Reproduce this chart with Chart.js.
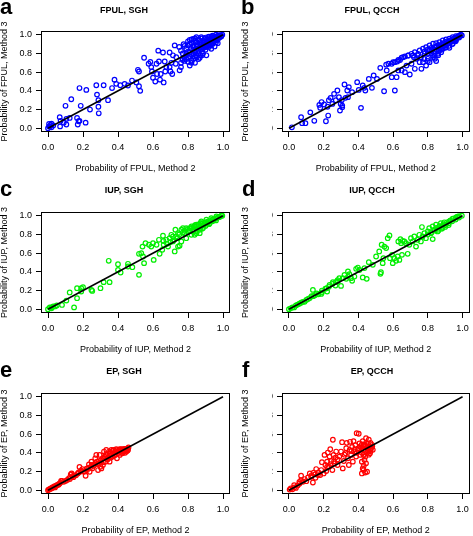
<!DOCTYPE html>
<html><head><meta charset="utf-8">
<script src="https://cdn.jsdelivr.net/npm/chart.js@4"></script>
<style>
html,body{margin:0;padding:0;background:#fff;width:473px;height:536px;overflow:hidden}
body{position:relative}
canvas{position:absolute}
.lt{position:absolute;font-family:"Liberation Sans",Arial,sans-serif;font-weight:bold;font-size:22px;line-height:22px;color:#000}
</style></head><body>
<div id="wrap"></div>
<script>
const tickValues=[0,0.2,0.4,0.6,0.8,1.0];
const diagLine=[0,1];
const panelTitles=["FPUL, SGH","FPUL, QCCH","IUP, SGH","IUP, QCCH","EP, SGH","EP, QCCH"];
const panelLetters=["a","b","c","d","e","f"];
const outcomes=["FPUL","FPUL","IUP","IUP","EP","EP"];

const fpulSgh=[[0.0,0.0],[0.01,0.02],[0.006,0.046],[0.006,0.018],[0.02,0.05],[0.02,0.01],[0.03,0.03],[0.015,0.035],
[0.067,0.118],[0.072,0.08],[0.069,0.02],[0.09,0.06],[0.105,0.10],[0.124,0.11],[0.10,0.24],[0.133,0.31],[0.105,0.04],
[0.166,0.11],[0.175,0.075],[0.17,0.04],[0.18,0.43],[0.187,0.24],[0.18,0.08],[0.215,0.06],[0.219,0.41],[0.24,0.20],
[0.276,0.46],[0.28,0.36],[0.288,0.30],[0.288,0.23],[0.29,0.16],[0.318,0.46],
[0.343,0.30],[0.366,0.43],[0.38,0.52],[0.39,0.475],[0.413,0.46],[0.438,0.475],[0.457,0.457],[0.48,0.51],[0.505,0.49],[0.52,0.45],[0.527,0.40],[0.514,0.625],[0.52,0.607],[0.549,0.754],
[0.575,0.69],[0.585,0.71],[0.59,0.654],[0.594,0.607],[0.60,0.54],[0.613,0.50],[0.62,0.69],[0.623,0.58],[0.63,0.83],[0.634,0.714],[0.64,0.52],[0.644,0.58],[0.657,0.81],[0.661,0.49],[0.667,0.714],[0.67,0.607],[0.676,0.654],[0.695,0.81],[0.695,0.654],[0.70,0.607],[0.71,0.58],[0.705,0.70],[0.714,0.78],[0.724,0.886],[0.73,0.69],[0.752,0.62],[0.76,0.654],[0.768,0.743],[0.733,0.76],[0.75,0.87],[0.775,0.90],[0.79,0.80],[0.80,0.71],[0.81,0.67],[0.819,0.725],[0.83,0.74],[0.838,0.768],[0.838,0.83],[0.848,0.78],[0.867,0.754],[0.886,0.80],[0.905,0.78],[0.83,0.87],[0.848,0.92],[0.857,0.886],[0.867,0.94],[0.886,0.90],[0.905,0.92],[0.924,0.946],[0.943,0.968],[0.962,0.98],[0.98,0.99],[0.996,1.0],[0.81,0.90],[0.819,0.85],[0.80,0.82],[0.867,0.86],[0.886,0.857],[0.905,0.868],[0.924,0.886],[0.943,0.91],[0.962,0.94],[0.98,0.97],[0.933,0.85],[0.952,0.875],[0.97,0.91],[0.77,0.80],[0.78,0.76],[0.79,0.85],[0.876,0.975],[0.895,0.955],[0.914,0.975],[0.933,0.98],[0.848,0.975],[0.83,0.955],[0.81,0.946],
[0.82,0.79],[0.84,0.81],[0.86,0.83],[0.88,0.85],[0.90,0.88],[0.92,0.90],[0.94,0.93],[0.96,0.95],[0.98,0.98],[0.99,0.99],[0.85,0.88],[0.87,0.90],[0.89,0.93],[0.91,0.95],[0.93,0.96],[0.95,0.97],[0.97,0.99],[0.80,0.76],[0.82,0.72],[0.84,0.70],[0.79,0.74],[0.86,0.80],[0.88,0.82],[0.90,0.84],[0.92,0.87],[0.94,0.90],[0.96,0.92],[0.83,0.84],[0.85,0.85],[0.87,0.87],[0.89,0.89],[0.91,0.91],[0.93,0.93],[0.95,0.95],[0.97,0.97],[0.76,0.83],[0.78,0.88],[0.80,0.89],[0.82,0.91],[0.84,0.93],[0.86,0.95],[0.88,0.96],[0.90,0.97],[0.92,0.98],[0.94,0.99],[0.96,1.0],
[0.78,0.72],[0.79,0.78],[0.81,0.77],[0.81,0.81],[0.83,0.79],[0.83,0.88],[0.85,0.90],[0.85,0.76],[0.87,0.78],[0.87,0.92],[0.88,0.88],[0.89,0.86],[0.90,0.90],[0.91,0.88],[0.92,0.95],[0.93,0.89],[0.94,0.95],[0.95,0.93],[0.96,0.97],[0.97,0.95],[0.98,0.995],[0.99,0.98],[0.77,0.73],[0.76,0.70],[0.82,0.70],[0.86,0.74],[0.88,0.78],[0.80,0.93],[0.82,0.95],[0.84,0.96]];

const fpulQcch=[[0.017,0.01],[0.07,0.118],[0.076,0.054],[0.095,0.054],[0.123,0.17],[0.146,0.08],[0.175,0.25],[0.18,0.22],[0.188,0.28],[0.203,0.254],[0.213,0.075],[0.226,0.136],[0.222,0.23],[0.23,0.30],[0.24,0.325],[0.25,0.26],[0.26,0.368],[0.27,0.30],[0.279,0.404],[0.288,0.332],[0.294,0.19],[0.298,0.26],[0.307,0.243],[0.307,0.225],[0.304,0.30],[0.32,0.468],[0.326,0.325],[0.336,0.404],[0.345,0.44],[0.34,0.332],[0.364,0.386],[0.393,0.493],[0.402,0.41],[0.415,0.218],[0.425,0.457],[0.434,0.432],[0.44,0.404],[0.46,0.528],[0.478,0.432],[0.488,0.564],[0.507,0.528],[0.526,0.646],[0.548,0.396],[0.56,0.68],[0.563,0.618],[0.573,0.69],[0.592,0.546],[0.60,0.707],[0.61,0.404],[0.62,0.546],[0.63,0.618],[0.624,0.714],[0.64,0.73],[0.649,0.618],[0.658,0.76],[0.668,0.60],[0.677,0.67],[0.687,0.778],[0.696,0.575],[0.706,0.69],[0.715,0.778],[0.725,0.636],[0.734,0.743],[0.744,0.796],[0.753,0.707],[0.763,0.636],[0.772,0.707],[0.782,0.796],[0.79,0.67],[0.80,0.743],[0.81,0.707],[0.82,0.832],[0.83,0.778],[0.84,0.743],[0.848,0.718],[0.858,0.796],[0.867,0.832],[0.877,0.814],[0.886,0.85],[0.905,0.868],[0.924,0.86],[0.943,0.904],[0.962,0.94],[0.98,0.975],[0.996,0.993],
[0.753,0.832],[0.772,0.85],[0.79,0.868],[0.81,0.886],[0.83,0.904],[0.848,0.91],[0.867,0.92],[0.886,0.94],[0.905,0.95],[0.924,0.957],[0.943,0.975],[0.962,0.986],[0.725,0.814],[0.706,0.796],[0.687,0.778],[0.668,0.768],[0.649,0.754],[0.63,0.73],[0.61,0.707],[0.592,0.69],
[0.78,0.82],[0.80,0.84],[0.82,0.86],[0.84,0.87],[0.86,0.89],[0.88,0.90],[0.90,0.92],[0.92,0.93],[0.94,0.95],[0.96,0.96],[0.98,0.99],[0.85,0.84],[0.87,0.86],[0.89,0.88],[0.91,0.90],[0.93,0.92],[0.95,0.94],[0.97,0.97],[0.99,1.0],[0.86,0.82],[0.88,0.84],[0.90,0.86],[0.92,0.88],[0.94,0.90],[0.96,0.93],[0.82,0.80],[0.84,0.78],[0.76,0.76],[0.74,0.78],[0.72,0.76],
[0.80,0.80],[0.81,0.83],[0.83,0.85],[0.85,0.87],[0.87,0.88],[0.89,0.91],[0.91,0.93],[0.93,0.94],[0.95,0.96],[0.97,0.98],[0.84,0.82],[0.88,0.87],[0.90,0.89],[0.92,0.91],[0.94,0.93],[0.96,0.95],[0.98,0.97],[0.78,0.74],[0.80,0.72],[0.83,0.76],[0.86,0.78]];

const iupSgh=[[0.01,0.02],[0.02,0.02],[0.03,0.03],[0.04,0.03],[0.05,0.04],[0.02,0.01],[0.0,0.0],
[0.08,0.046],[0.105,0.093],[0.124,0.18],[0.149,0.02],[0.166,0.118],[0.166,0.225],[0.19,0.225],[0.19,0.19],[0.20,0.236],[0.248,0.207],[0.253,0.196],[0.30,0.225],[0.318,0.29],[0.347,0.518],[0.352,0.29],[0.40,0.482],[0.40,0.42],[0.415,0.393],[0.457,0.486],[0.482,0.45],[0.457,0.457],[0.52,0.368],[0.52,0.593],[0.533,0.60],[0.54,0.67],[0.549,0.493],[0.543,0.564],[0.557,0.707],[0.577,0.69],[0.59,0.67],[0.604,0.528],[0.60,0.707],[0.62,0.69],[0.634,0.743],[0.638,0.593],[0.653,0.636],[0.657,0.786],[0.661,0.69],[0.676,0.743],[0.686,0.67],[0.695,0.76],[0.705,0.796],[0.714,0.725],[0.724,0.618],[0.728,0.85],[0.733,0.778],[0.743,0.67],[0.752,0.68],[0.762,0.725],[0.771,0.868],[0.78,0.814],[0.79,0.76],[0.80,0.832],[0.81,0.868],[0.819,0.796],[0.829,0.85],[0.838,0.886],[0.848,0.814],[0.857,0.904],[0.867,0.85],[0.876,0.921],[0.886,0.868],[0.895,0.93],[0.905,0.904],[0.914,0.94],[0.924,0.921],[0.943,0.957],[0.962,0.975],[0.98,0.986],[0.996,1.0],[0.82,0.886],[0.79,0.868],[0.762,0.85],[0.743,0.814],[0.714,0.778],[0.848,0.904],[0.876,0.94],[0.905,0.957],[0.933,0.975],[0.962,0.993],[0.867,0.814],[0.838,0.796],
[0.78,0.84],[0.80,0.86],[0.82,0.87],[0.84,0.88],[0.86,0.89],[0.88,0.91],[0.90,0.93],[0.92,0.94],[0.94,0.96],[0.96,0.97],[0.98,0.99],[0.83,0.83],[0.85,0.85],[0.87,0.87],[0.89,0.90],[0.91,0.92],[0.93,0.94],[0.95,0.96],[0.97,0.98],[0.99,1.0],[0.85,0.83],[0.88,0.86],[0.90,0.89],[0.92,0.91],[0.94,0.94],[0.96,0.95],[0.75,0.80],[0.77,0.82],[0.81,0.84],[0.84,0.90],[0.87,0.92],[0.70,0.72],[0.68,0.70],[0.66,0.73],[0.72,0.74],[0.74,0.76]];

const iupQcch=[[0.0,0.0],[0.01,0.01],[0.02,0.02],[0.03,0.02],[0.04,0.04],[0.05,0.05],[0.06,0.06],[0.07,0.07],[0.08,0.08],[0.09,0.08],[0.10,0.10],[0.11,0.11],[0.12,0.12],[0.13,0.14],[0.14,0.14],[0.15,0.15],[0.16,0.17],[0.17,0.16],[0.19,0.20],[0.21,0.22],[0.23,0.24],[0.25,0.27],[0.27,0.29],[0.28,0.31],
[0.138,0.207],[0.19,0.18],[0.186,0.164],[0.22,0.19],[0.218,0.225],[0.234,0.26],[0.253,0.29],[0.268,0.254],[0.28,0.296],[0.29,0.332],[0.30,0.25],[0.31,0.332],[0.32,0.368],[0.33,0.325],[0.34,0.404],[0.34,0.35],[0.348,0.375],[0.358,0.332],[0.364,0.304],[0.377,0.35],[0.387,0.432],[0.397,0.446],[0.406,0.42],[0.425,0.34],[0.435,0.44],[0.448,0.325],[0.46,0.504],[0.483,0.475],[0.502,0.564],[0.52,0.618],[0.527,0.379],[0.53,0.396],[0.534,0.69],[0.54,0.493],[0.544,0.546],[0.55,0.67],[0.56,0.654],[0.569,0.76],[0.579,0.79],[0.582,0.546],[0.594,0.582],[0.598,0.493],[0.607,0.546],[0.617,0.518],[0.626,0.564],[0.63,0.725],[0.636,0.528],[0.642,0.75],[0.646,0.707],[0.651,0.582],[0.655,0.732],[0.665,0.725],[0.674,0.707],[0.684,0.593],[0.693,0.69],[0.703,0.76],[0.713,0.725],[0.722,0.778],[0.732,0.67],[0.741,0.743],[0.751,0.796],[0.76,0.725],[0.766,0.879],[0.77,0.778],[0.78,0.814],[0.789,0.76],[0.80,0.832],[0.808,0.868],[0.818,0.814],[0.828,0.75],[0.828,0.886],[0.837,0.85],[0.847,0.904],[0.856,0.832],[0.866,0.886],[0.875,0.921],[0.885,0.868],[0.895,0.93],[0.904,0.904],[0.923,0.94],[0.943,0.968],[0.962,0.982],[0.98,0.996],[0.996,1.0],
[0.80,0.80],[0.82,0.82],[0.84,0.84],[0.86,0.86],[0.88,0.88],[0.90,0.90],[0.92,0.92],[0.94,0.94],[0.96,0.96],[0.98,0.98],[0.85,0.87],[0.87,0.89],[0.89,0.91],[0.91,0.93],[0.93,0.95],[0.95,0.97],[0.97,0.99],[0.86,0.84],[0.88,0.86],[0.90,0.88],[0.92,0.90]];

const epSgh=[[0.0,0.0],[0.005,0.01],[0.01,0.01],[0.015,0.02],[0.02,0.02],[0.025,0.03],[0.03,0.03],[0.035,0.04],[0.04,0.03],[0.045,0.05],[0.05,0.05],[0.055,0.06],[0.06,0.06],[0.065,0.07],[0.07,0.08],[0.075,0.1],[0.08,0.1],[0.09,0.09],[0.1,0.1],[0.11,0.11],[0.12,0.13],[0.125,0.12],[0.13,0.17],[0.135,0.18],[0.14,0.15],[0.145,0.14],[0.15,0.16],[0.16,0.16],[0.17,0.18],[0.175,0.19],[0.18,0.25],[0.185,0.2],[0.19,0.21],[0.196,0.227],[0.2,0.2],[0.21,0.2],[0.215,0.155],[0.223,0.216],[0.23,0.24],[0.234,0.277],[0.238,0.198],[0.245,0.25],[0.248,0.306],[0.253,0.234],[0.26,0.26],[0.263,0.27],[0.27,0.342],[0.276,0.378],[0.28,0.306],[0.283,0.28],[0.286,0.216],[0.29,0.288],[0.295,0.378],[0.3,0.252],[0.302,0.3],[0.305,0.234],[0.31,0.335],[0.314,0.27],[0.318,0.3],[0.32,0.414],[0.324,0.36],[0.33,0.306],[0.333,0.432],[0.337,0.378],[0.34,0.33],[0.343,0.342],[0.349,0.414],[0.352,0.306],[0.356,0.396],[0.36,0.35],[0.362,0.432],[0.368,0.36],[0.371,0.406],[0.375,0.432],[0.378,0.37],[0.381,0.378],[0.387,0.414],[0.39,0.439],[0.394,0.342],[0.4,0.396],[0.403,0.42],[0.406,0.432],[0.41,0.378],[0.413,0.414],[0.419,0.439],[0.422,0.4],[0.425,0.396],[0.429,0.432],[0.432,0.414],[0.435,0.42],[0.438,0.442],[0.44,0.4],[0.444,0.432],[0.448,0.414],[0.451,0.442],[0.455,0.425],[0.457,0.432],[0.46,0.457],[0.35,0.37],[0.33,0.38],[0.36,0.39],[0.38,0.4],[0.4,0.41],[0.42,0.42],[0.37,0.42],[0.39,0.43],[0.41,0.44],[0.43,0.44],[0.45,0.44],[0.3,0.32],[0.32,0.34],[0.34,0.35],[0.27,0.29],[0.25,0.27],[0.22,0.23]];

const epQcch=[[0.004,0.007],[0.01,0.02],[0.02,0.01],[0.03,0.03],[0.03,0.054],[0.04,0.025],[0.05,0.05],[0.06,0.09],[0.07,0.108],[0.07,0.155],[0.08,0.09],[0.1,0.097],[0.11,0.137],[0.12,0.18],[0.128,0.144],[0.138,0.083],[0.142,0.187],[0.153,0.133],[0.157,0.227],[0.167,0.162],[0.18,0.162],[0.186,0.216],[0.19,0.30],[0.2,0.18],[0.205,0.378],[0.21,0.27],[0.215,0.205],[0.22,0.306],[0.224,0.403],[0.23,0.252],[0.234,0.36],[0.238,0.439],[0.243,0.313],[0.25,0.216],[0.253,0.54],[0.257,0.378],[0.262,0.288],[0.268,0.35],[0.272,0.414],[0.28,0.27],[0.29,0.36],[0.30,0.414],[0.306,0.514],[0.31,0.234],[0.316,0.313],[0.326,0.396],[0.33,0.45],[0.333,0.507],[0.34,0.342],[0.345,0.27],[0.35,0.432],[0.352,0.518],[0.358,0.378],[0.364,0.464],[0.368,0.306],[0.372,0.525],[0.377,0.414],[0.383,0.482],[0.387,0.36],[0.39,0.61],[0.397,0.432],[0.402,0.604],[0.406,0.50],[0.41,0.378],[0.416,0.45],[0.42,0.18],[0.42,0.306],[0.425,0.525],[0.43,0.216],[0.431,0.432],[0.435,0.493],[0.439,0.19],[0.44,0.36],[0.444,0.557],[0.448,0.45],[0.45,0.198],[0.454,0.50],[0.458,0.414],[0.46,0.54],[0.464,0.468],[0.467,0.396],[0.47,0.507],[0.473,0.45],[0.479,0.486],[0.483,0.432],[0.431,0.263],[0.425,0.234],[0.435,0.324],[0.444,0.288],
[0.40,0.45],[0.41,0.47],[0.42,0.49],[0.43,0.47],[0.44,0.48],[0.45,0.46],[0.46,0.44],[0.47,0.42],[0.48,0.47],[0.42,0.40],[0.43,0.38],[0.44,0.42],[0.45,0.40],[0.46,0.38],[0.47,0.44],[0.38,0.44],[0.39,0.40],[0.36,0.42],[0.32,0.38],[0.28,0.33],[0.26,0.31],[0.24,0.28],[0.22,0.25],[0.17,0.19],[0.15,0.17],[0.13,0.16],[0.09,0.12],[0.06,0.07]];

const panelData=[fpulSgh,fpulQcch,iupSgh,iupQcch,epSgh,epQcch];
const panelColors=["#0000ff","#0000ff","#00ee00","#00ee00","#ff0000","#ff0000"];

// layout: canvas left/top/size, layout padding, axis sizes
const cols=[{L:0,W:236,padL:18,padR:6,yw:23},{L:241,W:232,padL:31,padR:1,yw:10}];
const rows=[{T:0,H:174,tTop:5,tBot:15.2},{T:174,H:181,tTop:11,tBot:16.2},{T:355,H:181,tTop:11.6,tBot:15.6}];
const letterPos=[[0,-4],[241,-4],[0,178],[242,178],[0,359],[242,359]];

const boxPlugin={id:'boxPlot',afterDatasetsDraw(c){const a=c.chartArea,x=c.ctx;x.save();x.strokeStyle='#000';x.lineWidth=1;
x.strokeRect(Math.round(a.left)+0.5,Math.round(a.top)+0.5,Math.round(a.right-a.left)-1,Math.round(a.bottom-a.top)-1);x.restore();}};

const FF='"Liberation Sans", Arial, Helvetica, sans-serif';
const wrap=document.getElementById('wrap');
for(let i=0;i<6;i++){
  const col=cols[i%2],row=rows[Math.floor(i/2)];
  const cv=document.createElement('canvas');
  cv.width=col.W;cv.height=row.H;
  cv.style.left=col.L+'px';cv.style.top=row.T+'px';cv.style.width=col.W+'px';cv.style.height=row.H+'px';
  wrap.appendChild(cv);
  const lt=document.createElement('div');lt.className='lt';lt.textContent=panelLetters[i];
  lt.style.left=letterPos[i][0]+'px';lt.style.top=letterPos[i][1]+'px';document.body.appendChild(lt);
  const pts=panelData[i].map(p=>({x:p[0],y:p[1]}));
  const mkScale=(axis)=>({
    type:'linear',min:-0.04,max:1.04,
    afterBuildTicks:s=>{s.ticks=tickValues.map(v=>({value:v}));},
    afterFit:s=>{ if(axis==='x'){s.height=42;} else {s.width=col.yw;}
      s.paddingLeft=0;s.paddingRight=0;s.paddingTop=0;s.paddingBottom=0;},
    grid:{display:true,drawOnChartArea:false,drawTicks:true,tickLength:5,color:'#000',lineWidth:1},
    border:{display:false},
    ticks:{color:'#000',font:{family:FF,size:9},padding:axis==='x'?5.5:4,maxRotation:0,autoSkip:false,
      callback:v=>Number(v).toFixed(1)},
    title:{display:true,color:'#000',font:{family:FF,size:9,lineHeight:1},
      text:'Probability of '+outcomes[i]+', Method '+(axis==='x'?'2':'3'),
      padding:axis==='x'?{top:0,bottom:0.5}:{top:-col.padL,bottom:0}}
  });
  new Chart(cv,{
    type:'scatter',
    data:{datasets:[
      {type:'line',data:diagLine.map(v=>({x:v,y:v})),borderColor:'#000',borderWidth:1.5,pointRadius:0,fill:false,order:0},
      {data:pts,borderColor:panelColors[i],backgroundColor:'rgba(0,0,0,0)',pointRadius:2.3,pointBorderWidth:1.2,pointHoverRadius:2.3,order:1}
    ]},
    options:{
      responsive:false,animation:false,devicePixelRatio:1,
      layout:{padding:{left:col.padL,right:col.padR,top:0,bottom:0}},
      plugins:{legend:{display:false},tooltip:{enabled:false},
        title:{display:true,text:panelTitles[i],color:'#000',font:{family:FF,size:9,weight:'bold',lineHeight:1.2},padding:{top:row.tTop,bottom:row.tBot}}},
      scales:{x:mkScale('x'),y:mkScale('y')},
      events:[]
    },
    plugins:[boxPlugin]
  });
}
</script>
</body></html>
